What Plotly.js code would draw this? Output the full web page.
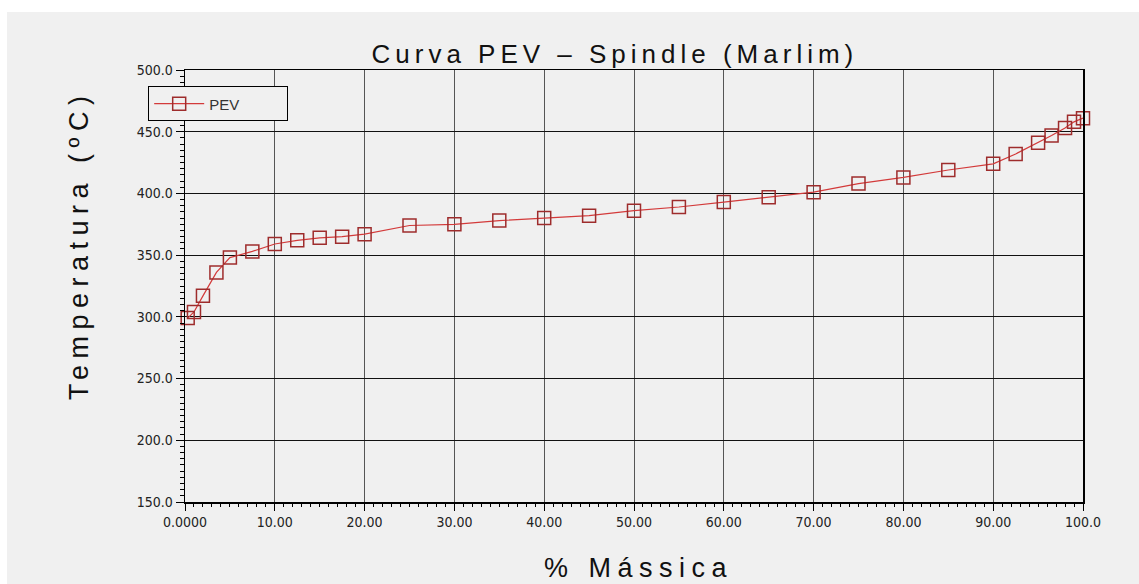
<!DOCTYPE html>
<html><head><meta charset="utf-8">
<script src="https://cdn.plot.ly/plotly-3.0.1.min.js"></script>
<style>
html,body{margin:0;padding:0;background:#ffffff;}
#chart{position:absolute;left:7px;top:12px;width:1132px;height:572px;}
.gtitle{letter-spacing:5px;}
.annotation-text{letter-spacing:6.5px;}
</style></head><body><div id="chart"></div>
<script>
// Data
const massPct = [0.3, 1, 2, 3.5, 5, 7.5, 10, 12.5, 15, 17.5, 20, 25, 30, 35, 40, 45, 50, 55, 60, 65, 70, 75, 80, 85, 90, 92.5, 95, 96.5, 98, 99, 100];
const tempC   = [299, 304, 317, 336, 348, 353, 359, 362, 364, 365, 367, 374, 375, 378, 380, 382, 386, 389, 393, 397, 401, 408, 413, 419, 424, 432, 441, 447, 453, 458, 461];
const seriesName = 'PEV';

const xTickVals = [0, 10, 20, 30, 40, 50, 60, 70, 80, 90, 100];
const xTickText = ['0.0000', '10.00', '20.00', '30.00', '40.00', '50.00', '60.00', '70.00', '80.00', '90.00', '100.0'];
const yTickVals = [150, 200, 250, 300, 350, 400, 450, 500];
const yTickText = ['150.0', '200.0', '250.0', '300.0', '350.0', '400.0', '450.0', '500.0'];

const chartTitle = 'Curva PEV – Spindle (Marlim)';
const xTitle = '% Mássica';
const yTitle = 'Temperatura (ºC)';

const tickFont = {family: 'Liberation Sans Narrow, Arial Narrow, DejaVu Sans Condensed, sans-serif', size: 14, color: '#222'};
const titleFont = {family: 'Liberation Sans, Arial, sans-serif', size: 26, color: '#111'};
const axisTitleFont = {family: 'Liberation Sans, Arial, sans-serif', size: 27, color: '#111'};

const trace = {
  x: massPct, y: tempC, name: seriesName,
  type: 'scatter', mode: 'lines+markers',
  line: {color: '#d33a3a', width: 1.2},
  marker: {symbol: 'square-open', size: 13, color: '#9e2c2c', line: {width: 1.5, color: '#9e2c2c'}},
  cliponaxis: false
};

const layout = {
  width: 1132, height: 572,
  paper_bgcolor: '#f0f0f0', plot_bgcolor: '#f0f0f0',
  margin: {l: 178, r: 56, t: 58, b: 82},
  title: {text: chartTitle, font: titleFont, x: 0.537, xref: 'container', xanchor: 'center', y: 0.926, yref: 'container', yanchor: 'middle'},
  xaxis: {
    range: [0, 100], tickmode: 'array', tickvals: xTickVals, ticktext: xTickText,
    tickfont: tickFont, ticks: 'outside', ticklen: 7, tickcolor: '#000',
    showgrid: true, gridcolor: '#555', gridwidth: 1,
    showline: true, linecolor: '#000', linewidth: 1.5, mirror: true, zeroline: false,
    minor: {tickmode: 'linear', tick0: 0, dtick: 1, ticks: 'outside', ticklen: 3, tickcolor: '#000', showgrid: false}
  },
  yaxis: {
    range: [150, 500], tickmode: 'array', tickvals: yTickVals, ticktext: yTickText,
    tickfont: tickFont, ticks: 'outside', ticklen: 8, tickcolor: '#000',
    showgrid: true, gridcolor: '#111', gridwidth: 1,
    showline: true, linecolor: '#000', linewidth: 1.5, mirror: true, zeroline: false,
    minor: {tickmode: 'linear', tick0: 150, dtick: 5, ticks: 'outside', ticklen: 4, tickcolor: '#000', showgrid: false}
  },
  showlegend: true,
  legend: {
    orientation: 'h',
    x: -0.041, y: 0.962, xanchor: 'left', yanchor: 'top',
    bgcolor: '#f0f0f0', bordercolor: '#000', borderwidth: 1,
    font: {family: 'Liberation Sans Narrow, Arial Narrow, sans-serif', size: 15, color: '#333'},
    itemwidth: 50,
    entrywidth: 73
  },
  annotations: [
    {text: yTitle, xref: 'paper', yref: 'paper', x: -0.118, y: 0.595, xanchor: 'center', yanchor: 'middle', textangle: -90, showarrow: false, font: axisTitleFont},
    {text: xTitle, xref: 'paper', yref: 'paper', x: 0.505, y: -0.153, xanchor: 'center', yanchor: 'middle', showarrow: false, font: axisTitleFont}
  ]
};

Plotly.newPlot('chart', [trace], layout, {displayModeBar: false, staticPlot: true});
</script></body></html>
